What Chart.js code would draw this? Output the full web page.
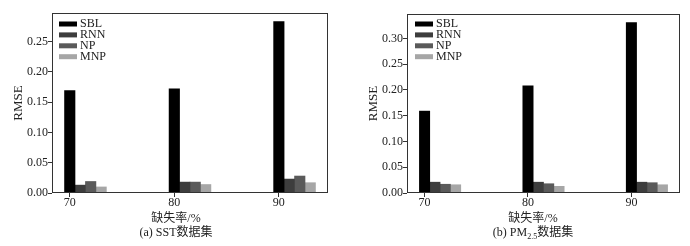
<!DOCTYPE html>
<html>
<head>
<meta charset="utf-8">
<script src="https://cdn.jsdelivr.net/npm/chart.js@4.4.0/dist/chart.umd.min.js"></script>
<style>
  body { margin: 0; background: #fff; width: 690px; height: 246px; position: relative; overflow: hidden;
         font-family: 'Liberation Serif', 'Noto Sans CJK SC', serif; color: #222; }
  .box { position: absolute; top: 0; width: 345px; height: 246px; }
  .lbl { position: absolute; width: 200px; text-align: center; font-size: 12px; line-height: 14px; white-space: nowrap; }
  sub { font-size: 8px; line-height: 0; }
</style>
</head>
<body>
<div class="box" style="left:0"><canvas id="chart1" width="345" height="246"></canvas></div>
<div class="box" style="left:345px"><canvas id="chart2" width="345" height="246"></canvas></div>
<div class="lbl" style="left:76px;top:211px">缺失率/%</div>
<div class="lbl" style="left:76px;top:225px">(a) SST数据集</div>
<div class="lbl" style="left:433px;top:211px">缺失率/%</div>
<div class="lbl" style="left:433px;top:225px">(b) PM<sub>2.5</sub>数据集</div>
<script>
// categories (missing rate, %) and methods
const missingRates = [70, 80, 90];
const methods = ['SBL', 'RNN', 'NP', 'MNP'];
const methodColors = ['#000000', '#3d3d3d', '#5a5a5a', '#a6a6a6'];

// (a) SST dataset, RMSE
const sstSBL = [0.169, 0.172, 0.283];
const sstRNN = [0.013, 0.018, 0.023];
const sstNP  = [0.019, 0.018, 0.028];
const sstMNP = [0.010, 0.014, 0.017];
const sstYTicks = [0, 0.05, 0.10, 0.15, 0.20, 0.25];

// (b) PM2.5 dataset, RMSE
const pmSBL = [0.159, 0.208, 0.331];
const pmRNN = [0.021, 0.021, 0.021];
const pmNP  = [0.017, 0.018, 0.020];
const pmMNP = [0.016, 0.013, 0.016];
const pmYTicks = [0, 0.05, 0.10, 0.15, 0.20, 0.25, 0.30];

const family = "'Liberation Serif', 'Noto Sans CJK SC', serif";

// box round the plot, all four sides
const framePlugin = {
  id: 'frame',
  afterDatasetsDraw(chart) {
    const a = chart.chartArea, ctx = chart.ctx;
    ctx.save();
    ctx.strokeStyle = '#333';
    ctx.lineWidth = 1;
    ctx.strokeRect(a.left + 0.5, a.top + 0.5, a.right - a.left - 1, a.bottom - a.top - 1);
    ctx.restore();
  }
};

// legend in the top left corner of the plot
const boxLegend = {
  id: 'boxLegend',
  afterDraw(chart, args, opts) {
    const a = chart.chartArea, ctx = chart.ctx;
    ctx.save();
    ctx.font = '12px ' + family;
    ctx.textBaseline = 'middle';
    chart.data.datasets.forEach((ds, i) => {
      const y = a.top + opts.dy + i * 10.9;
      ctx.fillStyle = ds.backgroundColor;
      ctx.fillRect(a.left + opts.dx, y - 2.5, 18, 5);
      ctx.fillStyle = '#222';
      ctx.fillText(ds.label, a.left + opts.dx + 21, y);
    });
    ctx.restore();
  }
};

function makeChart(id, series, yTicks, f) {
  const datasets = methods.map((name, s) => ({
    label: name,
    data: missingRates.map((rate, i) => ({ x: rate + s, y: series[s][i] })),
    backgroundColor: methodColors[s],
    borderWidth: 0,
    categoryPercentage: 1,
    barPercentage: 1,
    grouped: false
  }));
  const lo = missingRates[0] - 0.5;
  const hi = missingRates[missingRates.length - 1] + methods.length - 0.5;
  const margin = (hi - lo) * 0.05;
  const yMax = Math.max(...series.flat()) * 1.05;

  return new Chart(document.getElementById(id), {
    type: 'bar',
    data: { datasets: datasets },
    options: {
      responsive: false,
      animation: false,
      layout: { padding: { left: 0, right: f.right, top: f.top, bottom: 0 } },
      plugins: {
        legend: { display: false },
        tooltip: { enabled: false },
        boxLegend: { dx: f.legX, dy: f.legY }
      },
      scales: {
        x: {
          type: 'linear',
          offset: false,
          min: lo - margin,
          max: hi + margin,
          afterBuildTicks: s => { s.ticks = missingRates.map(v => ({ value: v })); },
          afterFit: s => { s.height = 53; },
          grid: { offset: false, drawOnChartArea: false, drawTicks: true, tickLength: 4, color: '#333' },
          border: { display: false },
          ticks: { color: '#222', padding: 0, font: { family: family, size: 12, lineHeight: 1 } }
        },
        y: {
          min: 0,
          max: yMax,
          afterBuildTicks: s => { s.ticks = yTicks.map(v => ({ value: v })); },
          afterFit: s => { s.width = f.yWidth; },
          grid: { drawOnChartArea: false, drawTicks: true, tickLength: 4, color: '#333' },
          border: { display: false },
          ticks: {
            color: '#222', padding: 0,
            font: { family: family, size: 12 },
            callback: v => v.toFixed(2)
          },
          title: {
            display: true, text: 'RMSE', color: '#222',
            padding: { top: f.titlePad, bottom: 0 },
            font: { family: family, size: 13 }
          }
        }
      }
    },
    plugins: [framePlugin, boxLegend]
  });
}

makeChart('chart1', [sstSBL, sstRNN, sstNP, sstMNP], sstYTicks,
  { right: 17, top: 13, yWidth: 52, titlePad: 11, legX: 7, legY: 11 });
makeChart('chart2', [pmSBL, pmRNN, pmNP, pmMNP], pmYTicks,
  { right: 10, top: 14, yWidth: 62, titlePad: 21, legX: 8, legY: 10 });
</script>
</body>
</html>
